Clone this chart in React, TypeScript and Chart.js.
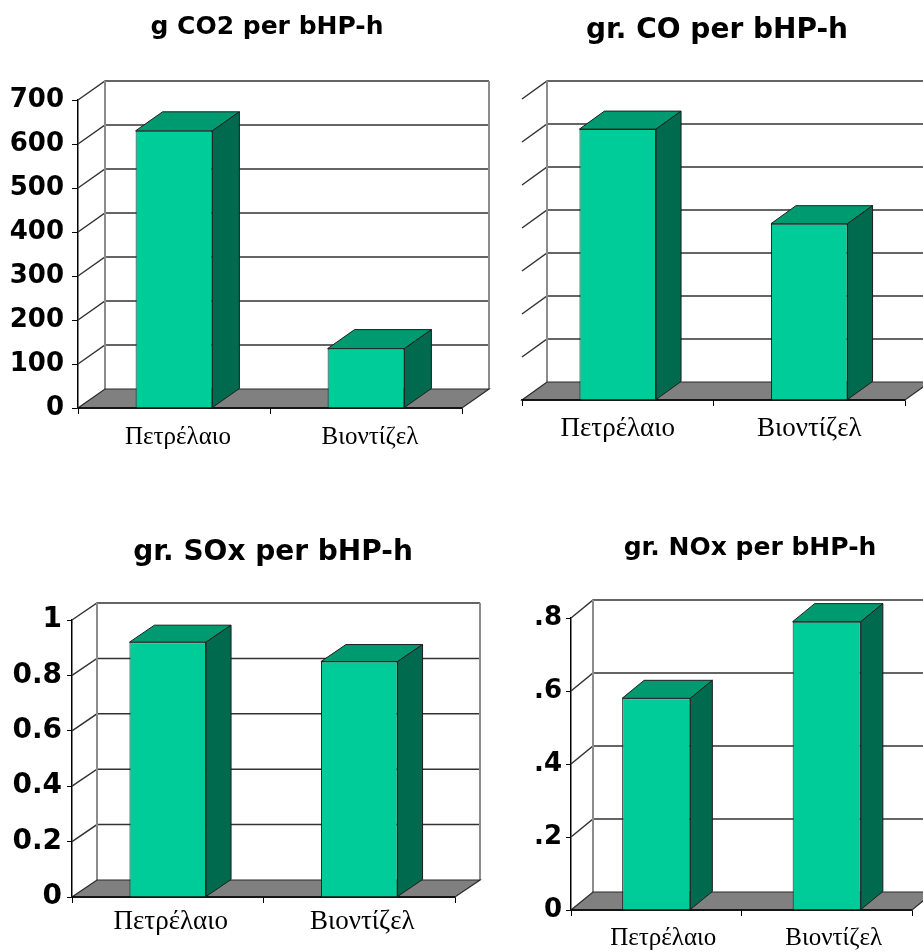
import { useEffect, useRef } from 'react';
import { Chart, registerables } from 'chart.js';

Chart.register(...registerables);

// Fuel categories shown on every panel
const categories = ['Πετρέλαιο', 'Βιοντίζελ'];

// Emissions per brake horsepower-hour
const co2Values = [630, 135];
const coValues = [6.3, 4.1];
const soxValues = [0.92, 0.85];
const noxValues = [0.58, 0.79];

// Value-axis tick labels
const co2TickLabels = ['0', '100', '200', '300', '400', '500', '600', '700'];
const soxTickLabels = ['0', '0.2', '0.4', '0.6', '0.8', '1'];
const noxTickLabels = ['0', '.2', '.4', '.6', '.8'];

const FACE = '#00CC99';
const TOP_FACE = '#009A70';
const SIDE_FACE = '#006A4E';
const EDGE = '#1e1e1e';
const FLOOR = '#808080';

// Draws the back wall, side wall and floor behind the bars, then gives each bar a top and side face.
const box3d = {
  id: 'box3d',
  beforeDatasetsDraw(chart: any, _args: any, opts: any) {
    const { ctx, chartArea: a } = chart;
    const y = chart.scales.y;
    const { dx, dy } = opts;
    ctx.save();
    ctx.lineWidth = 1.5;
    ctx.strokeStyle = '#333';
    y.ticks.forEach((t: any) => {
      if (t.value === 0) return;
      const py = y.getPixelForValue(t.value);
      ctx.beginPath();
      ctx.moveTo(a.left, py);
      ctx.lineTo(a.left + dx, py - dy);
      ctx.lineTo(a.right + dx, py - dy);
      ctx.stroke();
    });
    const wallTop = y.getPixelForValue(y.max) - dy;
    const wallBottom = a.bottom - dy;
    ctx.strokeStyle = '#8c8c8c';
    ctx.lineWidth = 2;
    ctx.beginPath();
    ctx.moveTo(a.left + dx, wallTop);
    ctx.lineTo(a.left + dx, wallBottom);
    ctx.moveTo(a.right + dx, wallTop);
    ctx.lineTo(a.right + dx, wallBottom);
    ctx.stroke();

    ctx.beginPath();
    ctx.moveTo(a.left, a.bottom);
    ctx.lineTo(a.right, a.bottom);
    ctx.lineTo(a.right + dx, a.bottom - dy);
    ctx.lineTo(a.left + dx, a.bottom - dy);
    ctx.closePath();
    ctx.fillStyle = FLOOR;
    ctx.fill();
    ctx.strokeStyle = '#2a2a2a';
    ctx.lineWidth = 1.2;
    ctx.stroke();
    ctx.beginPath();
    ctx.strokeStyle = '#000';
    ctx.lineWidth = 1.5;
    ctx.moveTo(a.left, a.bottom);
    ctx.lineTo(a.right, a.bottom);
    ctx.stroke();
    ctx.restore();
  },
  afterDatasetsDraw(chart: any, _args: any, opts: any) {
    const { ctx } = chart;
    const { dx, dy } = opts;
    const meta = chart.getDatasetMeta(0);
    ctx.save();
    ctx.lineWidth = 1;
    ctx.strokeStyle = EDGE;
    ctx.lineJoin = 'round';
    meta.data.forEach((bar: any) => {
      const { x, y, base, width } = bar.getProps(['x', 'y', 'base', 'width'], true);
      const l = x - width / 2;
      const r = x + width / 2;
      ctx.beginPath();
      ctx.moveTo(l, y);
      ctx.lineTo(r, y);
      ctx.lineTo(r + dx, y - dy);
      ctx.lineTo(l + dx, y - dy);
      ctx.closePath();
      ctx.fillStyle = TOP_FACE;
      ctx.fill();
      ctx.stroke();
      ctx.beginPath();
      ctx.moveTo(r, y);
      ctx.lineTo(r + dx, y - dy);
      ctx.lineTo(r + dx, base - dy);
      ctx.lineTo(r, base);
      ctx.closePath();
      ctx.fillStyle = SIDE_FACE;
      ctx.fill();
      ctx.stroke();
    });
    ctx.restore();
  },
};

type Panel = {
  title: string;
  values: number[];
  max: number;
  step: number;
  tickLabels: string[] | null;
  left: number;
  top: number;
  width: number;
  height: number;
  titleSize: number;
  titlePad: { top: number; bottom: number };
  yWidth: number;
  yFont: number;
  yTick: number;
  yPad: number;
  xHeight: number;
  xFont: number;
  xPad: number;
  labelOffset: number;
  rightSpace: number;
  padBottom: number;
  dx: number;
  dy: number;
};

const panels: Panel[] = [
  {
    title: 'g CO2 per bHP-h', values: co2Values, max: 700, step: 100, tickLabels: co2TickLabels,
    left: 0, top: 0, width: 534, height: 470,
    titleSize: 25, titlePad: { top: 12, bottom: 58 },
    yWidth: 78, yFont: 26, yTick: 6, yPad: 8,
    xHeight: 50, xFont: 25, xPad: 8, labelOffset: 4,
    rightSpace: 72, padBottom: 12, dx: 27, dy: 19,
  },
  {
    title: 'gr. CO per bHP-h', values: coValues, max: 7, step: 1, tickLabels: null,
    left: 480, top: 0, width: 474, height: 470,
    titleSize: 28, titlePad: { top: 14, bottom: 51.4 },
    yWidth: 42, yFont: 26, yTick: 0, yPad: 0,
    xHeight: 50, xFont: 27, xPad: 7, labelOffset: 0,
    rightSpace: 49, padBottom: 20, dx: 25, dy: 18,
  },
  {
    title: 'gr. SOx per bHP-h', values: soxValues, max: 1, step: 0.2, tickLabels: soxTickLabels,
    left: 0, top: 520, width: 546, height: 432,
    titleSize: 28, titlePad: { top: 16, bottom: 50.4 },
    yWidth: 72, yFont: 28, yTick: 5, yPad: 5,
    xHeight: 45, xFont: 27, xPad: 3, labelOffset: 3,
    rightSpace: 91, padBottom: 10, dx: 25, dy: 17,
  },
  {
    title: 'gr. NOx per bHP-h', values: noxValues, max: 0.8, step: 0.2, tickLabels: noxTickLabels,
    left: 530, top: 520, width: 440, height: 432,
    titleSize: 25, titlePad: { top: 13, bottom: 55 },
    yWidth: 41, yFont: 26, yTick: 5, yPad: 4,
    xHeight: 40, xFont: 25, xPad: 7, labelOffset: 7,
    rightSpace: 58, padBottom: 2, dx: 22, dy: 18,
  },
];

function BarPanel({ p }: { p: Panel }) {
  const ref = useRef<HTMLCanvasElement>(null);
  useEffect(() => {
    if (!ref.current) return;
    const showY = p.tickLabels !== null;
    const chart = new Chart(ref.current, {
      type: 'bar',
      data: {
        labels: categories,
        datasets: [
          {
            data: p.values,
            backgroundColor: FACE,
            borderColor: EDGE,
            borderWidth: 1,
            barPercentage: 0.4,
            categoryPercentage: 1,
          },
        ],
      },
      options: {
        responsive: false,
        animation: false,
        layout: { padding: { left: 0, top: 0, right: 0, bottom: p.padBottom } },
        plugins: {
          legend: { display: false },
          tooltip: { enabled: false },
          title: {
            display: true,
            text: p.title,
            color: '#000',
            font: { family: "'DejaVu Sans', sans-serif", weight: 'bold', size: p.titleSize, lineHeight: 1.2 },
            padding: p.titlePad,
          },
          box3d: { dx: p.dx, dy: p.dy },
        } as any,
        scales: {
          x: {
            grid: { drawOnChartArea: false, drawTicks: true, tickLength: 6, color: '#000', offset: true },
            border: { display: true, color: '#000', width: 1.5 },
            ticks: {
              color: '#000',
              font: { family: "'Liberation Serif', serif", size: p.xFont, lineHeight: 1.2 },
              padding: p.xPad,
              labelOffset: p.labelOffset,
              maxRotation: 0,
              autoSkip: false,
            },
            afterFit: (s: any) => {
              s.height = p.xHeight;
            },
          },
          y: {
            min: 0,
            max: p.max,
            grid: { drawOnChartArea: false, drawTicks: showY, tickLength: p.yTick, color: '#000' },
            border: { display: showY, color: '#000', width: 1.5 },
            ticks: {
              display: showY,
              stepSize: p.step,
              color: '#000',
              padding: p.yPad,
              font: { family: "'DejaVu Sans', sans-serif", weight: 'bold', size: p.yFont },
              callback: (_v: any, i: number) => (p.tickLabels ? p.tickLabels[i] : ''),
            },
            afterFit: (s: any) => {
              s.width = p.yWidth;
            },
          },
          // empty right-hand axis that only reserves room for the receding walls
          yRight: {
            type: 'linear',
            position: 'right',
            min: 0,
            max: 1,
            grid: { display: false, drawTicks: false },
            border: { display: false },
            ticks: { display: false },
            afterFit: (s: any) => {
              s.width = p.rightSpace;
            },
          },
        },
      },
      plugins: [box3d],
    } as any);
    return () => chart.destroy();
  }, [p]);
  return (
    <canvas
      ref={ref}
      width={p.width}
      height={p.height}
      style={{ position: 'absolute', left: p.left, top: p.top, width: p.width, height: p.height }}
    />
  );
}

export default function App() {
  return (
    <div
      style={{
        position: 'fixed',
        left: 0,
        top: 0,
        width: 923,
        height: 952,
        overflow: 'hidden',
        background: '#fff',
      }}
    >
      {panels.map((p) => (
        <BarPanel key={p.title} p={p} />
      ))}
    </div>
  );
}
